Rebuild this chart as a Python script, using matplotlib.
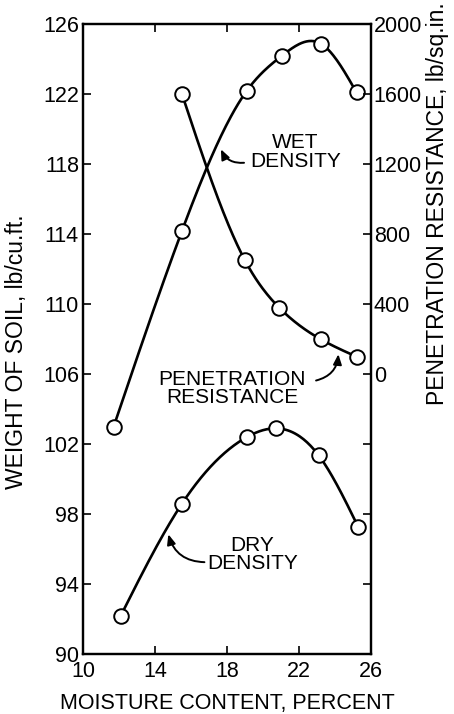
import numpy as np
import matplotlib
matplotlib.use('Agg')
import matplotlib.pyplot as plt
from matplotlib.ticker import FuncFormatter

plt.rcParams['font.family'] = ['Liberation Sans', 'DejaVu Sans']

# moisture content (%) and readings
wet_x = [11.7, 15.5, 19.1, 21.05, 23.2, 25.2]
wet_y = [103.0, 114.2, 122.2, 124.2, 124.9, 122.1]

dry_x = [12.1, 15.5, 19.1, 20.7, 23.1, 25.3]
dry_y = [92.2, 98.6, 102.4, 102.9, 101.35, 97.25]

pen_x = [15.5, 19.0, 20.9, 23.2, 25.2]
pen_y = [1600, 650, 380, 200, 100]

x_ticks = [10, 14, 18, 22, 26]
left_ticks = list(range(90, 127, 4))
right_ticks = list(range(-1200, 2001, 400))


def smooth(x, y, n=200):
    # natural cubic spline, only used to draw the connecting curve
    x = np.asarray(x, float)
    y = np.asarray(y, float)
    k = len(x)
    h = np.diff(x)
    A = np.zeros((k, k))
    b = np.zeros(k)
    A[0, 0] = A[-1, -1] = 1
    for i in range(1, k - 1):
        A[i, i - 1] = h[i - 1]
        A[i, i] = 2 * (h[i - 1] + h[i])
        A[i, i + 1] = h[i]
        b[i] = 6 * ((y[i + 1] - y[i]) / h[i] - (y[i] - y[i - 1]) / h[i - 1])
    m = np.linalg.solve(A, b)
    xs = np.linspace(x[0], x[-1], n)
    idx = np.clip(np.searchsorted(x, xs) - 1, 0, k - 2)
    t0 = xs - x[idx]
    t1 = x[idx + 1] - xs
    hi = h[idx]
    ys = (m[idx] * t1 ** 3 + m[idx + 1] * t0 ** 3) / (6 * hi) \
        + (y[idx] / hi - m[idx] * hi / 6) * t1 \
        + (y[idx + 1] / hi - m[idx + 1] * hi / 6) * t0
    return xs, ys


fig = plt.figure(figsize=(4.54, 7.14), dpi=100)
ax = fig.add_axes([0.183, 0.084, 0.634, 0.882])
ax2 = ax.twinx()

lw = 1.9
mk = dict(marker='o', ms=10.5, mfc='white', mec='black', mew=1.4, ls='none', zorder=5)

sx, sy = smooth(wet_x, wet_y)
ax.plot(sx, sy, color='black', lw=lw)
ax.plot(wet_x, wet_y, **mk)

sx, sy = smooth(dry_x, dry_y)
ax.plot(sx, sy, color='black', lw=lw)
ax.plot(dry_x, dry_y, **mk)

sx, sy = smooth(pen_x, pen_y)
ax2.plot(sx, sy, color='black', lw=lw)
ax2.plot(pen_x, pen_y, **mk)

ax.set_xlim(10, 26)
ax.set_ylim(90, 126)
ax2.set_ylim(-1600, 2000)

ax.set_xticks(x_ticks)
ax.set_yticks(left_ticks)
ax2.set_yticks(right_ticks)
ax2.yaxis.set_major_formatter(FuncFormatter(lambda v, p: '%d' % v if v >= 0 else ''))

ax.tick_params(axis='x', direction='in', top=True, length=6, width=1.2, labelsize=15.5, pad=5)
ax.tick_params(axis='y', direction='in', length=6, width=1.2, labelsize=15.5, pad=3)
ax2.tick_params(axis='y', direction='in', length=6, width=1.2, labelsize=15.5, pad=2)
for a in (ax, ax2):
    for s in a.spines.values():
        s.set_linewidth(1.6)

ax.set_xlabel('MOISTURE CONTENT, PERCENT', fontsize=15.5, labelpad=8)
ax.set_ylabel('WEIGHT OF SOIL, lb/cu.ft.', fontsize=16.5)
ax.yaxis.set_label_coords(-0.19, 0.48)
ax2.set_ylabel('PENETRATION RESISTANCE, lb/sq.in.', fontsize=16.5)
ax2.yaxis.set_label_coords(1.19, 0.715)

arrow = dict(arrowstyle='-|>,head_length=0.6,head_width=0.25', color='black', lw=1.4)

ax.annotate('', xy=(17.6, 119.0), xytext=(19.1, 118.1),
            arrowprops=dict(connectionstyle='arc3,rad=-0.4', **arrow))
ax.text(21.8, 118.7, 'WET\nDENSITY', ha='center', va='center', fontsize=15,
        linespacing=0.95, multialignment='center')

ax.annotate('', xy=(14.7, 97.0), xytext=(16.9, 95.25),
            arrowprops=dict(connectionstyle='arc3,rad=-0.4', **arrow))
ax.text(19.4, 95.7, 'DRY\nDENSITY', ha='center', va='center', fontsize=15,
        linespacing=0.95, multialignment='center')

ax2.annotate('', xy=(24.2, 130), xytext=(22.8, -40),
             arrowprops=dict(connectionstyle='arc3,rad=0.4', **arrow))
ax2.text(18.3, -80, 'PENETRATION\nRESISTANCE', ha='center', va='center', fontsize=15,
         linespacing=0.95, multialignment='center')

fig.savefig('out.png', dpi=100)
